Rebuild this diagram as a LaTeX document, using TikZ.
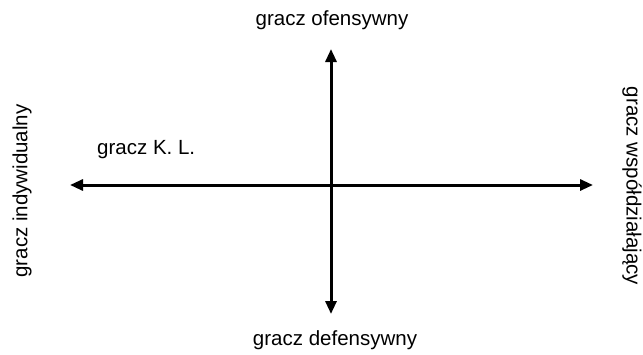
\documentclass[tikz,border=0pt]{standalone}
\usepackage{fontspec}
\setmainfont{Liberation Sans}
\usetikzlibrary{arrows.meta, positioning}

\begin{document}
\begin{tikzpicture}[
  x=1pt, y=-1pt,
  axis/.style={{Triangle[length=13pt, width=11pt]}-{Triangle[length=13pt, width=11pt]}, line width=3pt},
  lbl/.style={font=\fontsize{20.5}{24}\selectfont, inner sep=0pt}
]
\useasboundingbox (0,0) rectangle (643,354);

\coordinate (left) at (70,185);
\coordinate (right) at (593,185);
\coordinate (top) at (331,49);
\coordinate (bottom) at (331,314);

\draw[axis] (left) -- (right);
\draw[axis] (top) -- (bottom);

\node[lbl] (off) at (332,20) {gracz ofensywny};
\node[lbl] (def) at (335,340) {gracz defensywny};
\node[lbl, rotate=90] (ind) at (22,191) {gracz indywidualny};
\node[lbl, rotate=-90] (wsp) at (632,186) {gracz współdziałający};
\node[lbl, anchor=west] (kl) at (97,150) {gracz K. L.};
\end{tikzpicture}
\end{document}
